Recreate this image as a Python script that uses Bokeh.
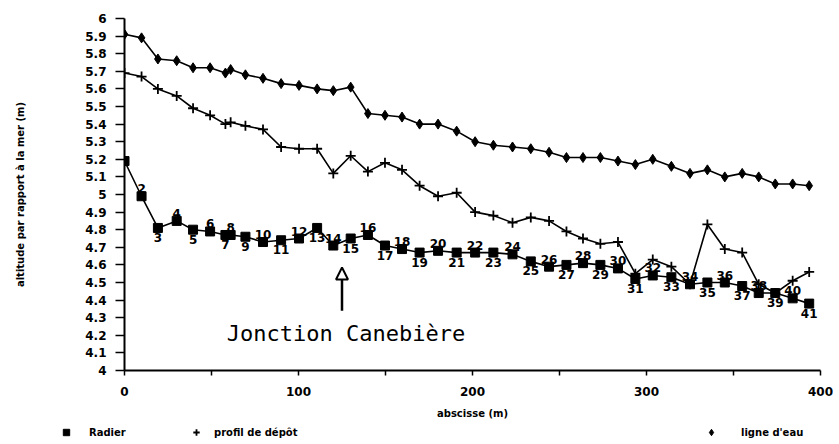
from bokeh.plotting import figure
from bokeh.layouts import column
from bokeh.models import FixedTicker, Legend, LegendItem, Arrow, NormalHead, Label, Range1d
from bokeh.embed import file_html
from bokeh.resources import INLINE
from bokeh.core.properties import value

# ---------------- data ----------------
abscisse = [0, 9.8, 19.2, 30, 39.4, 49.2, 58, 61, 69.5, 79.6,
            90, 100.3, 110.7, 120, 130, 139.9, 149.7, 159.5, 169.6, 180.2,
            190.9, 201.5, 212, 223, 233.5, 244, 254, 263.5, 273.5, 283.6,
            293.6, 303.6, 314.3, 325, 335, 345, 355, 364.5, 374, 384, 393.5]

radier = [5.19, 4.99, 4.81, 4.85, 4.80, 4.79, 4.77, 4.77, 4.76, 4.73,
          4.74, 4.75, 4.81, 4.71, 4.75, 4.77, 4.71, 4.69, 4.67, 4.68,
          4.67, 4.67, 4.67, 4.66, 4.62, 4.59, 4.60, 4.61, 4.60, 4.58,
          4.52, 4.54, 4.53, 4.49, 4.50, 4.50, 4.48, 4.44, 4.44, 4.41, 4.38]

profil_depot = [5.69, 5.67, 5.60, 5.56, 5.49, 5.45, 5.40, 5.41, 5.39, 5.37,
                5.27, 5.26, 5.26, 5.12, 5.22, 5.13, 5.18, 5.14, 5.05, 4.99,
                5.01, 4.90, 4.88, 4.84, 4.87, 4.85, 4.79, 4.75, 4.72, 4.73,
                4.55, 4.63, 4.59, 4.49, 4.83, 4.69, 4.67, 4.49, 4.44, 4.51, 4.56]

ligne_eau = [5.91, 5.89, 5.77, 5.76, 5.72, 5.72, 5.69, 5.71, 5.68, 5.66,
             5.63, 5.62, 5.60, 5.59, 5.61, 5.46, 5.45, 5.44, 5.40, 5.40,
             5.36, 5.30, 5.28, 5.27, 5.26, 5.24, 5.21, 5.21, 5.21, 5.19,
             5.17, 5.20, 5.16, 5.12, 5.14, 5.10, 5.12, 5.10, 5.06, 5.06, 5.05]

point_numbers = ["1", "2", "3", "4", "5", "6", "7", "8", "9", "10",
                 "11", "12", "13", "14", "15", "16", "17", "18", "19", "20",
                 "21", "22", "23", "24", "25", "26", "27", "28", "29", "30",
                 "31", "32", "33", "34", "35", "36", "37", "38", "39", "40", "41"]

y_ticks = [4.0, 4.1, 4.2, 4.3, 4.4, 4.5, 4.6, 4.7, 4.8, 4.9, 5.0,
           5.1, 5.2, 5.3, 5.4, 5.5, 5.6, 5.7, 5.8, 5.9, 6.0]
y_tick_labels = ["4", "4.1", "4.2", "4.3", "4.4", "4.5", "4.6", "4.7", "4.8", "4.9", "5",
                 "5.1", "5.2", "5.3", "5.4", "5.5", "5.6", "5.7", "5.8", "5.9", "6"]
x_ticks = [0, 100, 200, 300, 400]
x_minor_ticks = [50, 150, 250, 350]

junction_x = 125
junction_arrow_bottom = 4.34
junction_arrow_top = 4.585
junction_text = "Jonction Canebière"

x_title = "abscisse (m)"
y_title = "altitude par rapport à la mer (m)"
legend_labels = ["Radier", "profil de dépôt", "ligne d'eau"]

# ---------------- main figure ----------------
FONT = "DejaVu Sans"
p = figure(width=839, height=424, x_range=(0, 400), y_range=(4, 6),
           output_backend="svg", toolbar_location=None,
           min_border_left=124, min_border_right=19,
           min_border_top=18, min_border_bottom=54)
p.outline_line_color = None
p.grid.visible = False

for ax in (p.xaxis[0], p.yaxis[0]):
    ax.axis_line_width = 2
    ax.axis_line_color = "black"
    ax.major_tick_line_color = "black"
    ax.major_tick_line_width = 1.5
    ax.major_tick_in = 0
    ax.major_label_text_font = FONT
    ax.major_label_text_font_style = "bold"
    ax.major_label_text_font_size = "12px"
    ax.major_label_text_color = "black"
    ax.axis_label_text_font = FONT
    ax.axis_label_text_font_style = "bold"
    ax.axis_label_text_font_size = "10px"
    ax.axis_label_text_color = "black"

xa = p.xaxis[0]
xa.ticker = FixedTicker(ticks=x_ticks, minor_ticks=x_minor_ticks)
xa.major_tick_out = 5
xa.minor_tick_out = 5
xa.minor_tick_in = 0
xa.minor_tick_line_color = "black"
xa.minor_tick_line_width = 1.5
xa.major_label_standoff = 11
xa.axis_label = x_title
xa.axis_label_standoff = 9

ya = p.yaxis[0]
ya.ticker = FixedTicker(ticks=y_ticks)
ya.major_label_overrides = {t: l for t, l in zip(y_ticks, y_tick_labels)}
ya.major_tick_out = 9
ya.minor_tick_line_color = None
ya.major_label_standoff = 9
ya.axis_label = y_title
ya.axis_label_standoff = 56

line_style = dict(line_color="black", line_width=1.6)
eau_style = dict(marker="diamond", size=10, color="black")
dep_style = dict(marker="cross", size=10, line_width=1.8, color="black")
rad_style = dict(marker="square", size=9, color="black")

p.line(abscisse, ligne_eau, **line_style)
p.scatter(abscisse, ligne_eau, **eau_style)
p.line(abscisse, profil_depot, **line_style)
p.scatter(abscisse, profil_depot, **dep_style)
p.line(abscisse, radier, **line_style)
p.scatter(abscisse, radier, **rad_style)

# point numbers: even above, odd below (first point unlabelled)
up_x = [x for x, n in zip(abscisse, point_numbers) if int(n) % 2 == 0]
up_y = [y for y, n in zip(radier, point_numbers) if int(n) % 2 == 0]
up_t = [n for n in point_numbers if int(n) % 2 == 0]
dn_x = [x for x, n in zip(abscisse, point_numbers) if int(n) % 2 == 1 and n != "1"]
dn_y = [y for y, n in zip(radier, point_numbers) if int(n) % 2 == 1 and n != "1"]
dn_t = [n for n in point_numbers if int(n) % 2 == 1 and n != "1"]
lbl_style = dict(text_align="center", text_font=value(FONT), text_font_style="bold",
                 text_font_size="12px", text_color="black")
p.text(up_x, up_y, text=up_t, text_baseline="bottom", y_offset=-3, **lbl_style)
p.text(dn_x, dn_y, text=dn_t, text_baseline="top", y_offset=5, **lbl_style)

# junction annotation
p.add_layout(Arrow(x_start=junction_x, y_start=junction_arrow_bottom,
                   x_end=junction_x, y_end=junction_arrow_top,
                   line_width=2.5, line_color="black",
                   end=NormalHead(size=12, fill_color="white", line_color="black", line_width=2)))
p.add_layout(Label(x=junction_x, y=junction_arrow_bottom, text=junction_text,
                   text_align="center", text_baseline="top", y_offset=-10, x_offset=4,
                   text_font="DejaVu Sans Mono", text_font_size="22px", text_color="black"))

# ---------------- legend strip ----------------
lg_fig = figure(width=839, height=20, output_backend="svg", toolbar_location=None,
                x_range=Range1d(0, 1), y_range=Range1d(0, 1),
                x_axis_location=None, y_axis_location=None,
                min_border_left=0, min_border_right=0, min_border_top=0, min_border_bottom=0)
lg_fig.outline_line_color = None
lg_fig.grid.visible = False
# swatch renderers (their points lie outside this strip's view; only the legend shows)
sw_rad = lg_fig.scatter(x=abscisse[:1], y=radier[:1], **rad_style)
sw_dep = lg_fig.scatter(x=abscisse[:1], y=profil_depot[:1], **dep_style)
sw_eau = lg_fig.scatter(x=abscisse[:1], y=ligne_eau[:1], **eau_style)

leg_common = dict(orientation="horizontal", border_line_color=None, background_fill_alpha=0,
                  padding=0, margin=0, glyph_width=16, glyph_height=16,
                  label_text_font=FONT, label_text_font_style="bold",
                  label_text_font_size="10px", label_text_color="black")
for rend, lab, loc, stand in ((sw_rad, legend_labels[0], (58, 4), 15),
                              (sw_dep, legend_labels[1], (188, 4), 10),
                              (sw_eau, legend_labels[2], (703, 4), 22)):
    lg_fig.add_layout(Legend(items=[LegendItem(label=lab, renderers=[rend])], location=loc,
                             label_standoff=stand, **leg_common))

layout = column(p, column(lg_fig, spacing=0), spacing=0)
open("out.html", "w").write(file_html(layout, INLINE))
